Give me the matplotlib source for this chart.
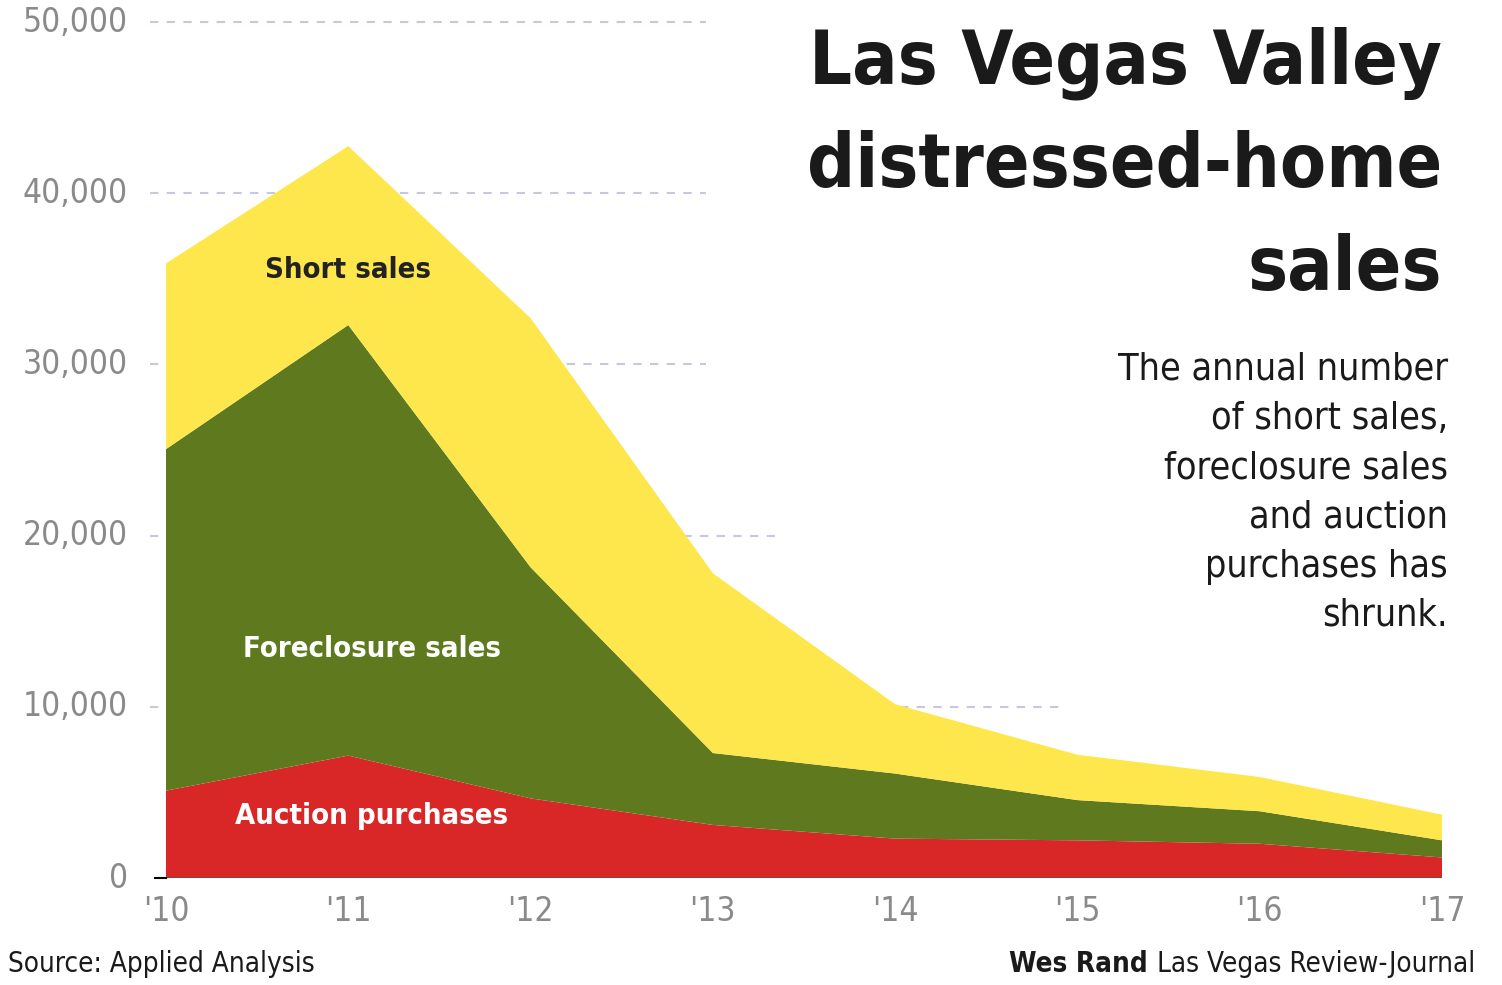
import matplotlib
matplotlib.use("Agg")
import matplotlib.pyplot as plt
from matplotlib import font_manager

names = {f.name for f in font_manager.fontManager.ttflist}
FONT = "Liberation Sans Narrow" if "Liberation Sans Narrow" in names else "DejaVu Sans"
plt.rcParams['font.family'] = [FONT, 'DejaVu Sans']
plt.rcParams['font.stretch'] = 'condensed'

# data
years = ["'10", "'11", "'12", "'13", "'14", "'15", "'16", "'17"]
auction = [5100, 7150, 4650, 3100, 2300, 2200, 2000, 1200]
foreclosure = [19950, 25150, 13500, 4200, 3800, 2350, 1900, 1000]
short_sales = [10850, 10450, 14550, 10500, 4050, 2650, 2000, 1500]
yticks = [0, 10000, 20000, 30000, 40000, 50000]
ytick_labels = ["0", "10,000", "20,000", "30,000", "40,000", "50,000"]
grid_end = [None, 4.9, 3.34, 2.96, 2.96, 2.96]
title_lines = ["Las Vegas Valley", "distressed-home", "sales"]

YELLOW = "#fde74c"
GREEN = "#5f7a1e"
RED = "#d92626"
GRAY = "#8a8a8a"
INK = "#1a1a1a"

W, H = 1502, 985
fig = plt.figure(figsize=(W / 100, H / 100), dpi=100)
ax = fig.add_axes([166 / W, (H - 878) / H, (1442 - 166) / W, (878 - 22) / H])

x = list(range(len(years)))

# dashed grid behind the areas
for yv, xe in zip(yticks, grid_end):
    if xe is None:
        continue
    ax.plot([-0.088, xe], [yv, yv], color="#c5c9dd", lw=1.5, ls=(0, (4, 4)),
            clip_on=False, zorder=0)

ax.stackplot(x, auction, foreclosure, short_sales,
             colors=[RED, GREEN, YELLOW], lw=0, zorder=2)

ax.plot([0, 7], [0, 0], color="#7a4a3a", lw=1.2, zorder=3)
ax.plot([-0.06, 0], [0, 0], color="black", lw=1.5, clip_on=False, zorder=3)

ax.set_xlim(0, 7)
ax.set_ylim(0, 50000)
for s in ax.spines.values():
    s.set_visible(False)
ax.set_xticks([])
ax.set_yticks([])

for yv, lab in zip(yticks, ytick_labels):
    ax.text(-0.21, yv, lab, ha="right", va="center", fontsize=24, color=GRAY)
for xi, lab in zip(x, years):
    ax.text(xi, -1000, lab, ha="center", va="top", fontsize=24, color=GRAY)

# series labels
ax.text(1.0, 35500, "Short sales", ha="center", va="center", fontsize=21,
        fontweight="bold", color="#222222", zorder=4)
ax.text(1.13, 13400, "Foreclosure sales", ha="center", va="center", fontsize=21,
        fontweight="bold", color="white", zorder=4)
ax.text(1.13, 3600, "Auction purchases", ha="center", va="center", fontsize=21,
        fontweight="bold", color="white", zorder=4)

# title and deck
for line, base in zip(title_lines, [83, 187, 290]):
    fig.text(1442 / W, 1 - base / H, line, ha="right", va="baseline",
             fontsize=54, fontweight="bold", color=INK)
fig.text(1448 / W, 1 - 352 / H,
         "The annual number\nof short sales,\nforeclosure sales\nand auction\npurchases has\nshrunk.",
         ha="right", va="top", fontsize=27, color=INK, linespacing=1.47)

fig.text(8 / W, 1 - 964 / H, "Source: Applied Analysis", ha="left", va="center",
         fontsize=20, color=INK)
fig.text(1475 / W, 1 - 964 / H, "Las Vegas Review-Journal", ha="right", va="center",
         fontsize=20, color=INK)
fig.text(1148 / W, 1 - 964 / H, "Wes Rand", ha="right", va="center",
         fontsize=20, fontweight="bold", color=INK)

fig.savefig("out.png", dpi=100)
